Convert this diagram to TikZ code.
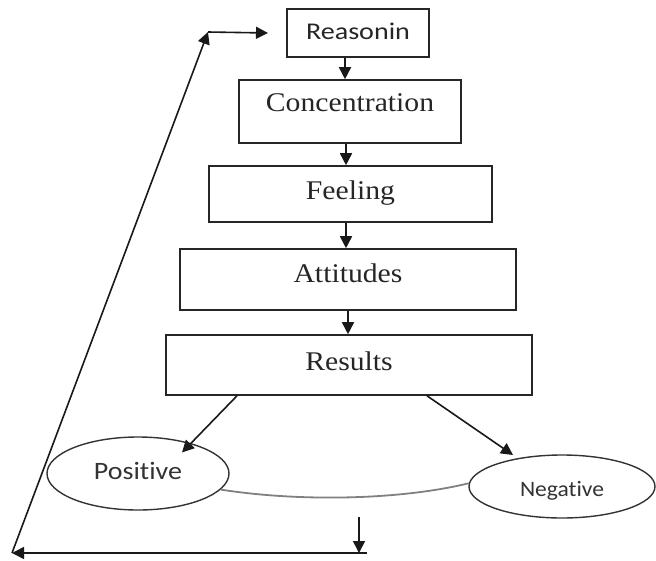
\documentclass[tikz,border=0pt]{standalone}
\usepackage{fontspec}
\usepackage{graphicx}
\setmainfont{Liberation Serif}
\newfontfamily\calibfam[Ligatures={NoCommon}]{Carlito}
\usetikzlibrary{arrows.meta,shapes.geometric}
\newcommand\sertxt[1]{\scalebox{1.1}[1]{\fontsize{27}{30}\selectfont #1}}
\newcommand\santxt[3]{\scalebox{#2}[1]{\calibfam\fontsize{#1}{#1}\selectfont #3}}
\begin{document}
\begin{tikzpicture}[x=1pt,y=-1pt,
  box/.style={draw=black!85,line width=1.6pt,rectangle,inner sep=0pt,text=black!85,text height=20pt},
  oval/.style={draw=black!80,line width=1.4pt,ellipse,inner sep=0pt,text=black!80,text height=20pt},
  arr/.style={draw=black!90,line width=1.6pt,-{Triangle[length=12pt,width=12pt]}},
  link/.style={draw=black!50,line width=1.8pt}
  ]
\useasboundingbox (0,0) rectangle (656,560);
% boxes
\node[box,minimum width=142pt,minimum height=48pt,text depth=8pt] (R) at (358,33) {\santxt{24}{1.17}{Reasonin}};
\node[box,minimum width=222pt,minimum height=63pt,text depth=21pt] (C) at (350,111.5) {\sertxt{Concentration}};
\node[box,minimum width=283pt,minimum height=56pt,text depth=10pt] (F) at (350.5,194) {\sertxt{Feeling}};
\node[box,minimum width=336pt,minimum height=61pt,text depth=15pt] (A) at (348,279.5) {\sertxt{Attitudes}};
\node[box,minimum width=366pt,minimum height=60pt,text depth=10pt] (S) at (349,365) {\sertxt{Results}};
% ellipses
\node[oval,minimum width=182pt,minimum height=73pt,text depth=9pt] (P) at (138,473.5) {\santxt{25}{1.12}{Positive}};
\node[oval,minimum width=186pt,minimum height=63pt,text depth=1pt] (N) at (562,486.5) {\santxt{22}{1.07}{Negative}};
% vertical arrows
\draw[arr] ([xshift=-13pt]R.south) -- ([xshift=-5pt]C.north);
\draw[arr] ([xshift=-4pt]C.south) -- ([xshift=-4.5pt]F.north);
\draw[arr] ([xshift=-4.5pt]F.south) -- ([xshift=-2pt]A.north);
\draw[arr] (A.south) -- ([xshift=-1pt]S.north);
% results to outcomes
\draw[arr] ([xshift=-112pt]S.south) -- ([xshift=44pt,yshift=21pt]P.center);
\draw[arr] ([xshift=78pt]S.south) -- ([xshift=-49pt,yshift=31.5pt]N.center);
% link between outcomes
\draw[link] (P.-11) .. controls (300,502) and (400,500) .. (N.178);
% feedback loop
\coordinate (dt) at (359,517);
\coordinate (db) at (359,553);
\coordinate (br) at (367,553);
\coordinate (bl) at (12,553);
\coordinate (tl) at (208,32);
\coordinate (tr) at (268,33);
\draw[arr] (dt) -- (db);
\draw[arr] (br) -- (bl);
\draw[arr] (bl) -- (tl);
\draw[arr] (tl) -- (tr);
\end{tikzpicture}
\end{document}
